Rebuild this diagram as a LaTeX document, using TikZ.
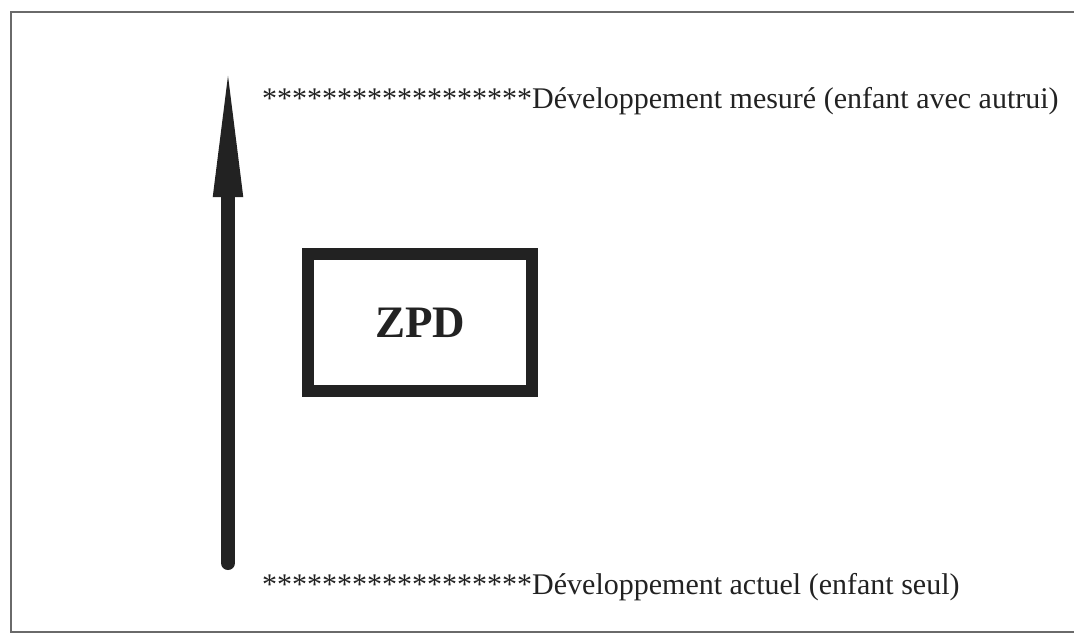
\documentclass[tikz,border=0pt]{standalone}
\usepackage{fontspec}
\setmainfont{Liberation Serif}
\usetikzlibrary{arrows.meta}
\definecolor{ink}{HTML}{222222}
\definecolor{frame}{HTML}{6A6A6A}
\tikzset{
  lbl/.style={anchor=base west, inner sep=0pt, text=ink, font=\fontsize{30}{35}\selectfont},
  zpdbox/.style={draw=ink, line width=12pt, minimum width=224pt, minimum height=137pt, inner sep=0pt, text=ink, font=\fontsize{45}{50}\selectfont\bfseries},
  bigarrow/.style={draw=ink, line width=14pt, line cap=round, -{Triangle[width=26pt,length=142pt]}}
}
\begin{document}
\begin{tikzpicture}[x=1pt,y=-1pt]
\useasboundingbox (0,0) rectangle (1074,635);
% frame (open on the right)
\coordinate (ftr) at (1080,12);
\coordinate (ftl) at (11,12);
\coordinate (fbl) at (11,632);
\coordinate (fbr) at (1080,632);
\draw[frame, line width=2pt] (ftr) -- (ftl) -- (fbl) -- (fbr);
% arrow
\coordinate (abot) at (228,563);
\coordinate (atop) at (228,55);
\draw[bigarrow] (abot) -- (atop);
% labels
\node[lbl] (top) at (262,108) {******************Développement mesuré (enfant avec autrui)};
\node[lbl] (bot) at (262,594) {******************Développement actuel (enfant seul)};
% ZPD box
\node[zpdbox] (zpd) at (420,322.5) {ZPD};
\end{tikzpicture}
\end{document}
